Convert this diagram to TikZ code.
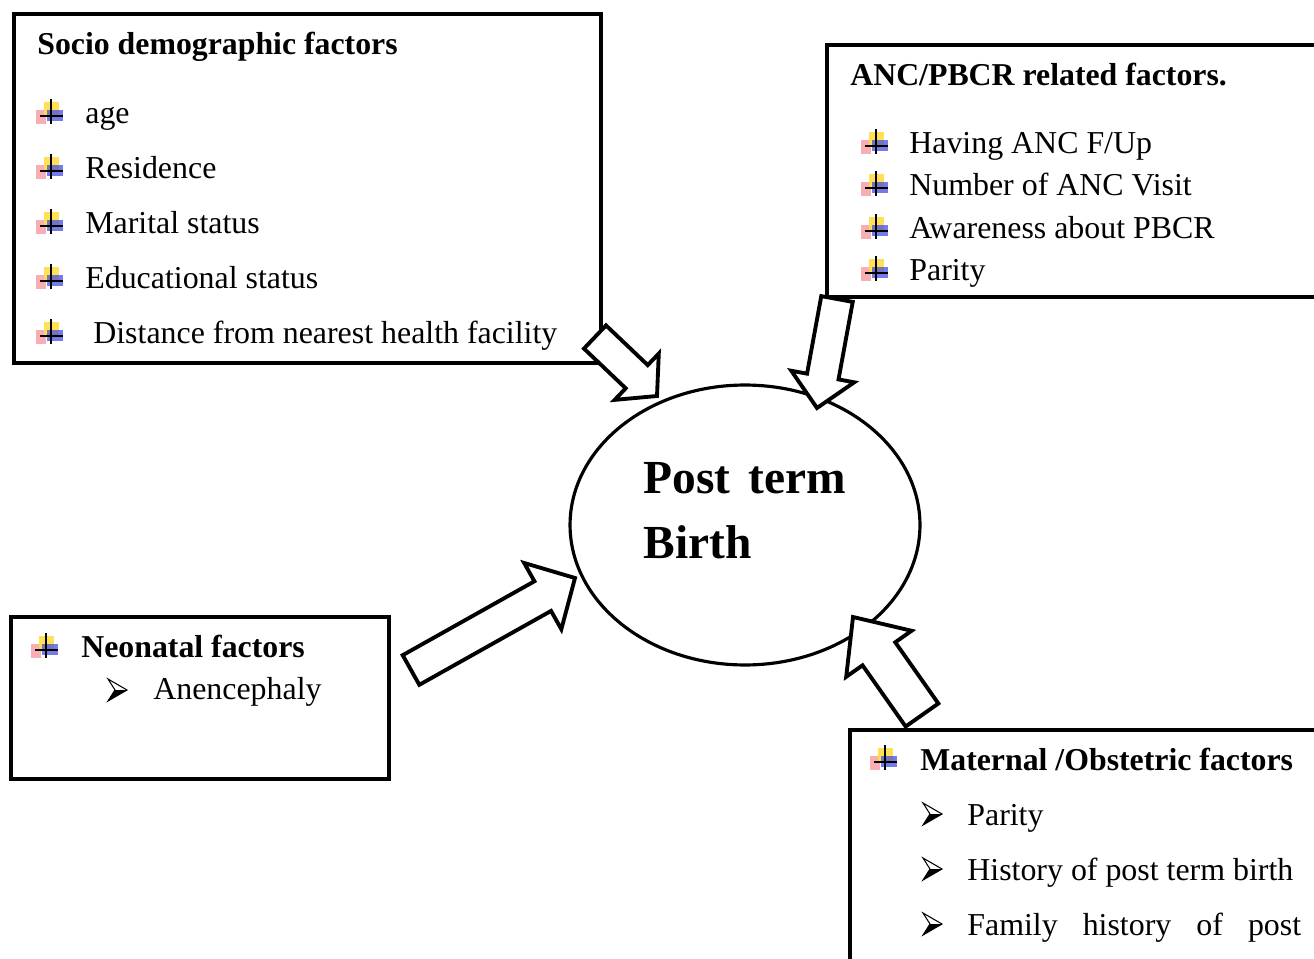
\documentclass[tikz,border=0pt]{standalone}
\usepackage{fontspec}
\setmainfont{Liberation Serif}
\usetikzlibrary{calc,fit,shapes.geometric}
\definecolor{byel}{RGB}{255,222,70}
\definecolor{bpink}{RGB}{245,120,130}
\definecolor{bblue}{RGB}{70,80,225}
\newcommand{\blockarrow}[5]{%
  \path ($(#2)!#5!(#1)$) coordinate (bah);
  \draw[arrowline] ($(#1)!#3!90:(#2)$) -- ($(bah)!#3!90:(#2)$) -- ($(bah)!#4!90:(#2)$) -- (#2)
    -- ($(bah)!#4!-90:(#2)$) -- ($(bah)!#3!-90:(#2)$) -- ($(#1)!#3!-90:(#2)$) -- cycle;}
\begin{document}
\begin{tikzpicture}[x=0.02cm,y=-0.02cm,
  box/.style={draw, line width=2.28pt, inner sep=0pt},
  txt/.style={anchor=base west, inner sep=0pt, font=\fontsize{18.15}{22}\selectfont},
  hd/.style={anchor=base west, inner sep=0pt, font=\fontsize{18.1}{22}\selectfont\bfseries},
  ttl/.style={anchor=base west, inner sep=0pt, font=\fontsize{27}{32}\selectfont\bfseries},
  arrowline/.style={draw, fill=white, line width=2.2pt, line join=miter},
  bul/.pic={
    \fill[bpink, opacity=0.6] (-15,-6) rectangle (-5,8);
    \fill[byel, opacity=0.9] (-7,-14) rectangle (8,0);
    \fill[bblue, opacity=0.75] (-4,-6) rectangle (12,5);
    \draw[line width=1.2pt] (0,-17) -- (0,8);
    \draw[line width=1.2pt] (-11,0) -- (12,0);
  },
  ahd/.pic={
    \draw[line width=0.6pt, line join=miter] (0,-11) -- (19,0) -- (0,11) -- (7,0) -- cycle;
    \fill (7,0) -- (19,0) -- (0,11) -- cycle;
  }]
\useasboundingbox (0,0) rectangle (1314,959);
\clip (0,0) rectangle (1314,959);

% boxes
\node[box, fit={(14,14) (601,363)}] (socio) {};
\node[box, fit={(827,45) (1340,297)}] (anc) {};
\node[box, fit={(11,617) (389,779)}] (neo) {};
\node[box, fit={(850,730) (1340,990)}] (mat) {};

% central ellipse
\node[draw, ellipse, line width=1.8pt, inner sep=0pt, minimum width=7.0cm, minimum height=5.6cm] (pt) at (745,525) {};
\node[ttl] (pt1) at (643,493) {\makebox[115.5pt][s]{Post term}};
\node[ttl] (pt2) at (643,558) {Birth};

% socio demographic
\node[hd] (sh) at (37,55) {Socio demographic factors};
\pic at (51,116) {bul};
\pic at (51,171) {bul};
\pic at (51,226) {bul};
\pic at (51,281) {bul};
\pic at (51,336) {bul};
\node[txt] (s1) at (85,123.5) {age};
\node[txt] (s2) at (85,178.5) {Residence};
\node[txt] (s3) at (85,233.5) {Marital status};
\node[txt] (s4) at (85,288.5) {Educational status};
\node[txt] (s5) at (93,343.5) {Distance from nearest health facility};

% ANC
\node[hd] (ah) at (850,85.5) {ANC/PBCR related factors.};
\pic at (876,146) {bul};
\pic at (876,188) {bul};
\pic at (876,231) {bul};
\pic at (876,273) {bul};
\node[txt] (a1) at (909,153.5) {Having ANC F/Up};
\node[txt] (a2) at (909,195.5) {Number of ANC Visit};
\node[txt] (a3) at (909,238.5) {Awareness about PBCR};
\node[txt] (a4) at (909,280.5) {Parity};

% neonatal
\pic at (46,650) {bul};
\node[hd] (nh) at (81,657.5) {Neonatal factors};
\pic at (108,690) {ahd};
\node[txt] (n1) at (153,699.5) {Anencephaly};

% maternal
\pic at (885,762) {bul};
\node[hd] (mh) at (920,770.5) {Maternal /Obstetric factors};
\pic at (923,814) {ahd};
\pic at (923,869) {ahd};
\pic at (923,924) {ahd};
\node[txt] (m1) at (967,825.5) {Parity};
\node[txt] (m2) at (967,880.5) {History of post term birth};
\node[txt] (m3) at (967,935.5) {\makebox[190pt][s]{Family history of post}};

% block arrows
\coordinate (b1s) at (595,337);
\coordinate (b1e) at (657,396);
\coordinate (b2s) at (837,299);
\coordinate (b2e) at (817,408);
\coordinate (b3s) at (411,670);
\coordinate (b3e) at (575,578);
\coordinate (b4s) at (922,715);
\coordinate (b4e) at (853,617);
\blockarrow{b1s}{b1e}{0.32cm}{0.64cm}{0.56cm}
\blockarrow{b2s}{b2e}{0.32cm}{0.64cm}{0.64cm}
\blockarrow{b3s}{b3e}{0.34cm}{0.76cm}{0.74cm}
\blockarrow{b4s}{b4e}{0.40cm}{0.80cm}{0.90cm}
\end{tikzpicture}
\end{document}
